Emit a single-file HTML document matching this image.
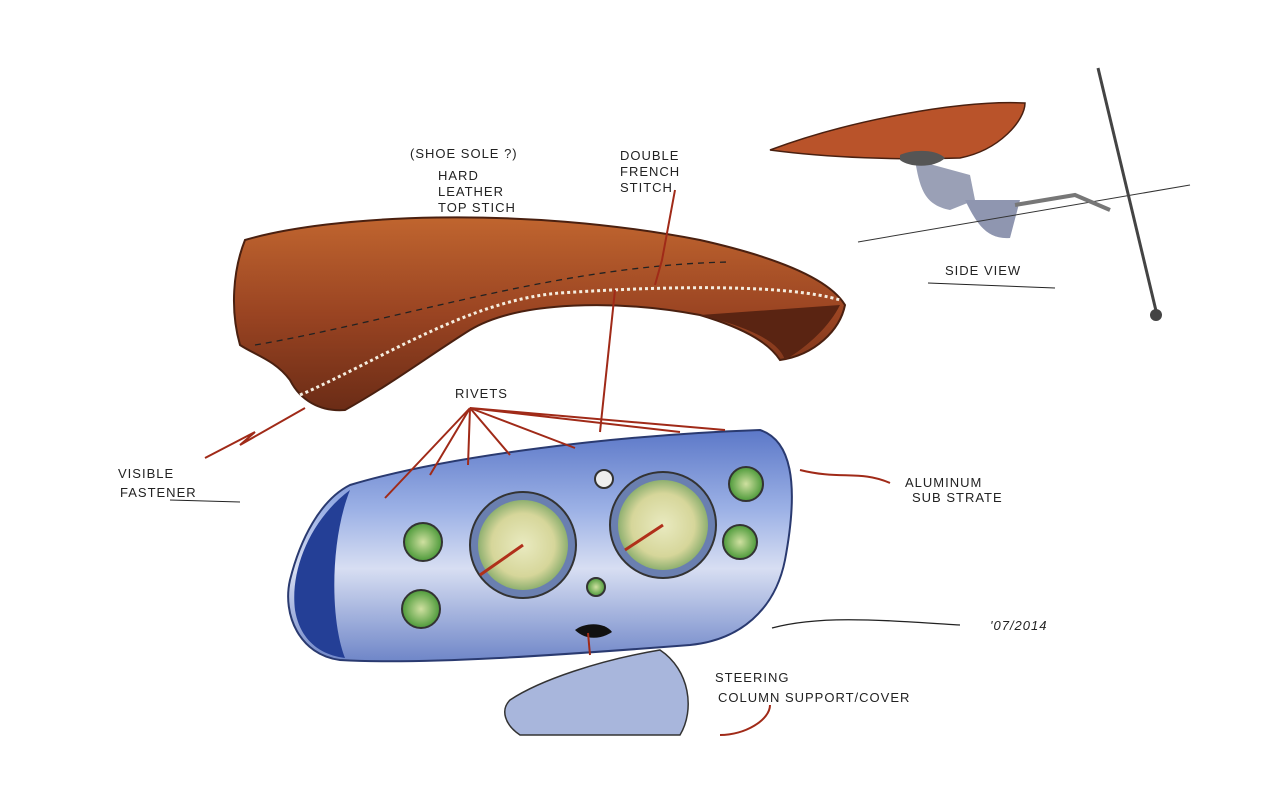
<!DOCTYPE html>
<html><head><meta charset="utf-8"><style>
html,body{margin:0;padding:0;background:#fff;}
svg{display:block;}
text{font-family:"Liberation Sans",sans-serif;fill:#222;font-size:13px;letter-spacing:1px;}
</style></head><body>
<svg width="1280" height="801" viewBox="0 0 1280 801" xmlns="http://www.w3.org/2000/svg">
<defs>
<linearGradient id="lea" x1="0" y1="0" x2="0" y2="1">
<stop offset="0" stop-color="#c0652f"/><stop offset="0.5" stop-color="#9a4422"/><stop offset="1" stop-color="#6b2c16"/>
</linearGradient>
<linearGradient id="blu" x1="0" y1="0" x2="0" y2="1">
<stop offset="0" stop-color="#5c78c8"/><stop offset="0.35" stop-color="#9db2e6"/><stop offset="0.6" stop-color="#d7def2"/><stop offset="1" stop-color="#6f86c8"/>
</linearGradient>
<radialGradient id="gauge" cx="0.5" cy="0.5" r="0.5">
<stop offset="0" stop-color="#e9eac0"/><stop offset="0.7" stop-color="#d6d69a"/><stop offset="1" stop-color="#8fb070"/>
</radialGradient>
<radialGradient id="sg" cx="0.5" cy="0.5" r="0.5">
<stop offset="0" stop-color="#cfe0a0"/><stop offset="1" stop-color="#4d9a3a"/>
</radialGradient>
</defs>
<rect width="1280" height="801" fill="#fff"/>
<!-- leather visor -->
<path d="M245,240 C330,215 520,205 700,240 C780,258 830,280 845,305 C840,330 815,355 780,360 C770,345 750,330 700,315 C620,300 520,300 470,330 C430,355 390,385 345,410 C320,412 300,400 290,380 C275,360 255,355 240,345 C230,310 233,270 245,240 Z" fill="url(#lea)" stroke="#4a2010" stroke-width="2"/>
<path d="M300,395 C380,360 470,300 560,293 C680,285 790,285 840,300" fill="none" stroke="#f5eee0" stroke-width="3" stroke-dasharray="3 3"/>
<path d="M255,345 C400,320 560,265 730,262" fill="none" stroke="#222" stroke-width="1.3" stroke-dasharray="6 5"/>
<path d="M700,315 C760,330 780,345 785,360 C810,345 830,325 840,305" fill="#5a2412"/>
<!-- instrument cluster -->
<path d="M350,485 C450,455 620,435 760,430 C790,440 800,480 785,560 C775,610 740,640 690,645 C560,655 420,665 340,660 C300,655 282,615 290,580 C300,540 320,500 350,485 Z" fill="url(#blu)" stroke="#2a3a70" stroke-width="2"/>
<path d="M350,490 C310,520 290,570 295,610 C300,640 320,655 345,658 C330,620 330,540 350,490 Z" fill="#243f96"/>
<circle cx="523" cy="545" r="53" fill="#6a7fb0" stroke="#333" stroke-width="2"/>
<circle cx="523" cy="545" r="45" fill="url(#gauge)"/>
<circle cx="663" cy="525" r="53" fill="#6a7fb0" stroke="#333" stroke-width="2"/>
<circle cx="663" cy="525" r="45" fill="url(#gauge)"/>
<line x1="523" y1="545" x2="480" y2="575" stroke="#b0301a" stroke-width="3"/>
<line x1="663" y1="525" x2="625" y2="550" stroke="#b0301a" stroke-width="3"/>
<g stroke="#333" stroke-width="2" fill="url(#sg)">
<circle cx="423" cy="542" r="19"/><circle cx="421" cy="609" r="19"/>
<circle cx="746" cy="484" r="17"/><circle cx="740" cy="542" r="17"/>
<circle cx="596" cy="587" r="9"/><circle cx="604" cy="479" r="9" fill="#eee"/>
</g>
<path d="M575,630 C585,622 605,622 612,632 C600,640 585,640 575,630Z" fill="#111"/>
<!-- steering cover -->
<path d="M510,700 C540,680 600,660 660,650 C690,670 695,710 680,735 L520,735 C505,725 500,710 510,700Z" fill="#a8b6dc" stroke="#333" stroke-width="1.5"/>
<!-- side view -->
<path d="M770,150 C850,120 960,100 1025,103 C1025,120 1000,150 960,158 C900,160 830,158 770,150Z" fill="#b9532a" stroke="#4a2010" stroke-width="1.5"/>
<path d="M915,160 C920,190 925,205 950,210 L975,200 L970,175Z" fill="#9aa0b6"/>
<path d="M965,200 C975,220 985,240 1010,238 L1020,200Z" fill="#8f96b0"/>
<path d="M900,155 C910,150 935,148 945,158 C935,168 910,168 900,160Z" fill="#555"/>
<line x1="858" y1="242" x2="1190" y2="185" stroke="#333" stroke-width="1"/>
<path d="M1015,205 L1075,195 L1110,210" fill="none" stroke="#777" stroke-width="4"/>
<line x1="1098" y1="68" x2="1157" y2="315" stroke="#444" stroke-width="3"/>
<circle cx="1156" cy="315" r="6" fill="#444"/>
<!-- arrows -->
<g fill="none" stroke="#a02a18" stroke-width="2">
<path d="M205,458 L255,432 L240,445 L305,408"/>
<path d="M600,432 L615,290"/>
<path d="M590,655 L588,633"/>
<path d="M675,190 L662,260 L655,285"/>
<path d="M890,483 C860,470 840,480 800,470"/>
<path d="M720,735 C745,735 770,720 770,705"/>
<path d="M470,408 L385,498 M470,408 L430,475 M470,408 L468,465 M470,408 L510,455 M470,408 L575,448 M470,408 L680,432 M470,408 L725,430"/>
</g>
<!-- labels -->
<text x="410" y="158">(SHOE SOLE ?)</text>
<text x="438" y="180">HARD</text>
<text x="438" y="196">LEATHER</text>
<text x="438" y="212">TOP STICH</text>
<text x="620" y="160">DOUBLE</text>
<text x="620" y="176">FRENCH</text>
<text x="620" y="192">STITCH</text>
<text x="945" y="275">SIDE VIEW</text>
<line x1="928" y1="283" x2="1055" y2="288" stroke="#222"/>
<text x="455" y="398">RIVETS</text>
<text x="118" y="478">VISIBLE</text>
<text x="120" y="497">FASTENER</text>
<line x1="170" y1="500" x2="240" y2="502" stroke="#222"/>
<text x="905" y="487">ALUMINUM</text>
<text x="912" y="502">SUB STRATE</text>
<text x="715" y="682">STEERING</text>
<text x="718" y="702">COLUMN SUPPORT/COVER</text>
<text x="990" y="630" font-style="italic">'07/2014</text>
<path d="M772,628 C820,615 880,620 960,625" fill="none" stroke="#222" stroke-width="1.3"/>
</svg>
</body></html>
